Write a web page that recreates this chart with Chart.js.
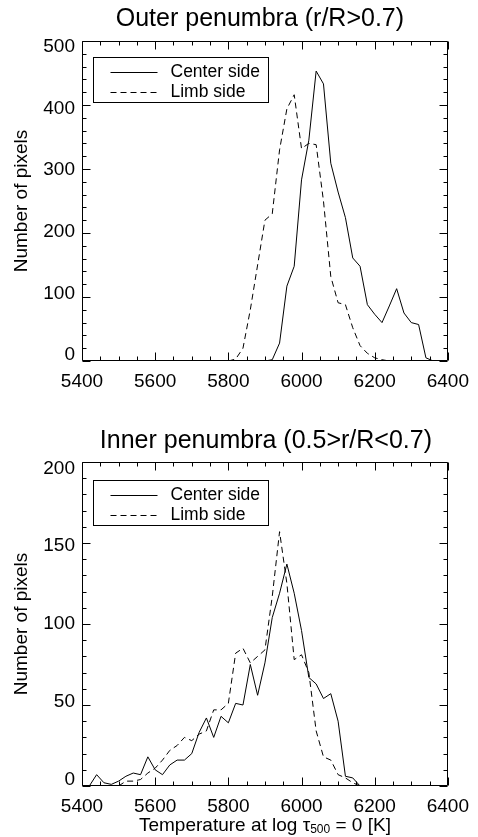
<!DOCTYPE html>
<html><head><meta charset="utf-8">
<script src="https://cdn.jsdelivr.net/npm/chart.js@4.4.1/dist/chart.umd.min.js"></script>
<style>
html,body{margin:0;padding:0;background:#fff;}
#wrap{width:478px;height:837px;position:relative;overflow:hidden;}
.p{position:absolute;left:0;width:478px;}
</style></head><body>
<div id="wrap">
<div class="p" style="top:0;height:418px"><canvas id="c1"></canvas></div>
<div class="p" style="top:418px;height:419px"><canvas id="c2"></canvas></div>
</div>
<script>
// ---- Data ----
const outerCenterTemps = [5900,5920,5940,5960,5980,6000,6020,6040,6060,6080,6100,6120,6140,6160,6180,6200,6220,6240,6260,6280,6300,6320,6340,6360];
const outerCenterCounts = [0,2,28,117,148,283,345,453,433,309,264,224,161,148,88,73,60,86,113,75,60,57,5,0];
const outerLimbTemps = [5800,5820,5840,5860,5880,5900,5920,5940,5960,5980,6000,6020,6040,6060,6080,6100,6120,6140,6160,6180,6200,6220,6240];
const outerLimbCounts = [0,3,20,80,150,220,230,330,394,416,332,340,338,250,132,91,88,52,24,12,5,2,0];

const innerCenterTemps = [5400,5420,5440,5460,5480,5500,5520,5540,5560,5580,5600,5620,5640,5660,5680,5700,5720,5740,5760,5780,5800,5820,5840,5860,5880,5900,5920,5940,5960,5980,6000,6020,6040,6060,6080,6100,6120,6140,6160];
const innerCenterCounts = [0,0,7,2,1,3,6,8,7,18,10,7,13,16,16,20,33,42,30,43,39,51,50,75,56,76,104,119,137,119,96,67,63,54,57,40,6,5,0];
const innerLimbTemps = [5500,5520,5540,5560,5580,5600,5620,5640,5660,5680,5700,5720,5740,5760,5780,5800,5820,5840,5860,5880,5900,5920,5940,5960,5980,6000,6020,6040,6060,6080,6100,6120,6140,6160];
const innerLimbCounts = [0,3,3,4,8,11,16,22,25,30,28,32,34,47,47,51,82,85,76,80,84,117,157,125,78,81,70,34,18,16,7,5,2,0];

const xTickLabels = ['5400','5600','5800','6000','6200','6400'];
const outerYTicks = [0,100,200,300,400,500];
const innerYTicks = [0,50,100,150,200];
const seriesNames = ['Center side','Limb side'];
const titles = ['Outer penumbra (r/R>0.7)','Inner penumbra (0.5>r/R<0.7)'];

const FONT = '"Liberation Sans", Arial, Helvetica, sans-serif';

function pts(t, v){ return t.map((x,i)=>({x:x, y:v[i]})); }

const framePlugin = {
  id:'frame',
  afterDraw(chart, args, o){
    const {ctx, chartArea:a, scales:{x,y}} = chart;
    const L=Math.round(a.left)+0.5, R=Math.round(a.right)-0.5, T=Math.round(a.top)+0.5, B=Math.round(a.bottom)-0.5;
    ctx.save();
    ctx.strokeStyle='#000'; ctx.lineWidth=1; ctx.setLineDash([]);
    ctx.beginPath(); ctx.rect(L,T,R-L,B-T); ctx.stroke();
    ctx.beginPath();
    for(let v=x.min; v<=x.max+0.01; v+=o.xMinor){
      const px=Math.round(x.getPixelForValue(v))+0.5;
      const len = (Math.abs((v-x.min)%o.xMajor)<0.01)?8:4;
      ctx.moveTo(px,B); ctx.lineTo(px,B-len);
      ctx.moveTo(px,T); ctx.lineTo(px,T+len);
    }
    for(let v=y.min; v<=y.max+0.01; v+=o.yMinor){
      const py=Math.round(y.getPixelForValue(v))+0.5;
      const len = (Math.abs((v-y.min)%o.yMajor)<0.01)?8:4;
      ctx.moveTo(L,py); ctx.lineTo(L+len,py);
      ctx.moveTo(R,py); ctx.lineTo(R-len,py);
    }
    ctx.stroke();
    // title
    ctx.fillStyle='#000';
    ctx.font='25px '+FONT; ctx.textAlign='center'; ctx.textBaseline='middle';
    ctx.fillText(o.title,(a.left+a.right)/2 + o.titleDx,o.titleY);
    // legend
    const bx=Math.round(a.left)+11.5, by=Math.round(a.top)+o.legTop+0.5, bw=175, bh=45;
    ctx.fillStyle='#fff'; ctx.fillRect(bx,by,bw,bh);
    ctx.strokeRect(bx,by,bw,bh);
    const ds=chart.data.datasets;
    ds.forEach((d,i)=>{
      const ly=Math.round(by+14+i*20)+0.5;
      ctx.beginPath(); ctx.setLineDash(d.borderDash||[]);
      ctx.moveTo(bx+17,ly); ctx.lineTo(bx+64,ly); ctx.stroke();
      ctx.setLineDash([]);
      ctx.fillStyle='#000'; ctx.font='17.5px '+FONT; ctx.textAlign='left'; ctx.textBaseline='middle';
      ctx.fillText(d.label,bx+77,ly);
    });
    // x axis title (bottom panel only)
    if(o.xTitle){
      const cx=(a.left+a.right)/2, ty=o.xTitleY;
      const parts=[['Temperature at log \u03c4',19,0],['500',12,4],[' = 0 [K]',19,0]];
      let w=0; parts.forEach(p=>{ctx.font=p[1]+'px '+FONT; w+=ctx.measureText(p[0]).width;});
      let xx=cx-w/2; ctx.textAlign='left'; ctx.textBaseline='middle'; ctx.fillStyle='#000';
      parts.forEach(p=>{ctx.font=p[1]+'px '+FONT; ctx.fillText(p[0],xx,ty+p[2]); xx+=ctx.measureText(p[0]).width;});
    }
    ctx.restore();
  }
};

function makeChart(id, cT, cV, lT, lV, ymax, yTicks, padTop, xH, squeeze, frameOpts){
  return new Chart(document.getElementById(id), {
    type:'line',
    data:{datasets:[
      {label:seriesNames[0], data:pts(cT,cV), borderColor:'#000', borderWidth:1, pointRadius:0, tension:0, fill:false},
      {label:seriesNames[1], data:pts(lT,lV), borderColor:'#000', borderWidth:1, borderDash:[6,4], pointRadius:0, tension:0, fill:false}
    ]},
    options:{
      responsive:true, maintainAspectRatio:false, animation:false, devicePixelRatio:1,
      layout:{padding:{top:padTop,right:25,left:0,bottom:0}},
      plugins:{legend:{display:false}, tooltip:{enabled:false}, title:{display:false}, frame:frameOpts},
      scales:{
        x:{type:'linear', min:5400, max:6400,
           afterBuildTicks:(s)=>{s.ticks=xTickLabels.map(t=>({value:Number(t)}));},
           ticks:{color:'#000', font:{family:FONT,size:19}, padding:9, maxRotation:0, autoSkip:false, callback:(v)=>String(v)},
           grid:{display:false, drawTicks:false}, border:{display:false},
           afterFit:(s)=>{s.height=xH;}},
        y:{type:'linear', min:0, max:ymax,
           afterBuildTicks:(s)=>{s.ticks=yTicks.map(t=>({value:t}));},
           afterUpdate:(s)=>{
             const base=Object.getPrototypeOf(s).getPixelForTick;
             s.getPixelForTick=function(i){const p=base.call(this,i); const c=(this.top+this.bottom)/2; return c+(p-c)*squeeze;};
           },
           ticks:{color:'#000', font:{family:FONT,size:19}, padding:7, autoSkip:false, callback:(v)=>String(v)},
           grid:{display:false, drawTicks:false}, border:{display:false},
           title:{display:true, text:'Number of pixels', color:'#000', font:{family:FONT,size:19}, padding:{top:10,bottom:0}},
           afterFit:(s)=>{s.width=82;}}
      }
    },
    plugins:[framePlugin]
  });
}

makeChart('c1', outerCenterTemps, outerCenterCounts, outerLimbTemps, outerLimbCounts, 500, outerYTicks, 41, 57, 0.962,
  {title:titles[0], titleY:19, titleDx:-5, legTop:16, xMinor:50, xMajor:200, yMinor:20, yMajor:100});
makeChart('c2', innerCenterTemps, innerCenterCounts, innerLimbTemps, innerLimbCounts, 200, innerYTicks, 44, 51, 0.96,
  {title:titles[1], titleY:23, titleDx:1, legTop:18, xMinor:50, xMajor:200, yMinor:10, yMajor:50, xTitle:true, xTitleY:408});
</script>
</body></html>
